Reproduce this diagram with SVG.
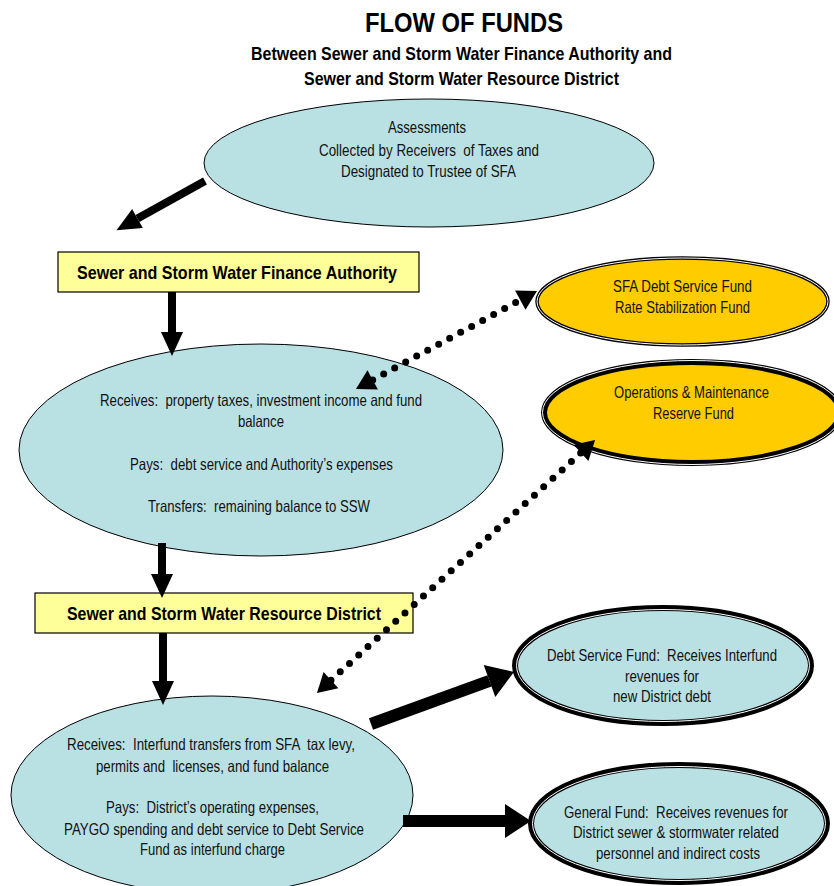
<svg xmlns="http://www.w3.org/2000/svg" width="834" height="886" viewBox="0 0 834 886">
<style>
text{font-family:"Liberation Sans Narrow","Arial Narrow","Liberation Sans",Arial,sans-serif;fill:#111;text-anchor:middle;white-space:pre}
.t{font-size:16.5px}
.b{font-size:18.5px;font-weight:bold;fill:#000}
.title{font-size:28px;font-weight:bold;fill:#000}
.blue{fill:#B9E0E3;stroke:#000;stroke-width:1}
.blueT{fill:#B9E0E3;stroke:#000;stroke-width:6}
.gold{fill:#FFCC00;stroke:#000;stroke-width:6}
.goldD{fill:#FFCC00;stroke:#000;stroke-width:3.5}
.gap{fill:none;stroke:#fff;stroke-width:1}
.box{fill:#FFFF99;stroke:#000;stroke-width:1.2}
.solid{fill:none;stroke:#000;stroke-width:8}
.heavy{fill:none;stroke:#000;stroke-width:12}
.dots{fill:none;stroke:#000;stroke-width:7;stroke-linecap:round;stroke-dasharray:0 12.5}
</style>
<defs>
<marker id="hSolid" markerUnits="userSpaceOnUse" markerWidth="24" markerHeight="22" refX="0" refY="11" orient="auto" overflow="visible">
<path d="M0,0 L24,11 L0,22 z" fill="#000"/>
</marker>
<marker id="hHeavy" markerUnits="userSpaceOnUse" markerWidth="26" markerHeight="34" refX="0" refY="17" orient="auto" overflow="visible">
<path d="M0,0 L26,17 L0,34 z" fill="#000"/>
</marker>
<marker id="hDot" markerUnits="userSpaceOnUse" markerWidth="19" markerHeight="22" refX="0" refY="11" orient="auto-start-reverse" overflow="visible">
<path d="M0,0 L19,11 L0,22 z" fill="#000"/>
</marker>
</defs>

<g id="title">
<text class="title" x="464" y="32" textLength="198" lengthAdjust="spacingAndGlyphs">FLOW OF FUNDS</text>
<text class="b" x="461.5" y="60" textLength="421" lengthAdjust="spacingAndGlyphs">Between Sewer and Storm Water Finance Authority and</text>
<text class="b" x="461.5" y="85" textLength="315" lengthAdjust="spacingAndGlyphs">Sewer and Storm Water Resource District</text>
</g>

<g id="assessments">
<ellipse class="blue" cx="429" cy="163" rx="225" ry="64"/>
<text class="t" x="427" y="133" textLength="78" lengthAdjust="spacingAndGlyphs">Assessments</text>
<text class="t" x="429" y="156" textLength="220" lengthAdjust="spacingAndGlyphs">Collected by Receivers  of Taxes and</text>
<text class="t" x="428.5" y="177" textLength="175" lengthAdjust="spacingAndGlyphs">Designated to Trustee of SFA</text>
</g>

<g id="sfa">
<rect class="box" x="58" y="252" width="361" height="40"/>
<text class="b" x="237" y="279" textLength="320" lengthAdjust="spacingAndGlyphs">Sewer and Storm Water Finance Authority</text>
</g>

<g id="sfa-detail">
<ellipse class="blue" cx="261" cy="450" rx="242" ry="106"/>
<text class="t" x="261" y="406" textLength="322" lengthAdjust="spacingAndGlyphs">Receives:  property taxes, investment income and fund</text>
<text class="t" x="261" y="427" textLength="46" lengthAdjust="spacingAndGlyphs">balance</text>
<text class="t" x="261.5" y="470" textLength="263" lengthAdjust="spacingAndGlyphs">Pays:  debt service and Authority’s expenses</text>
<text class="t" x="259" y="512" textLength="222" lengthAdjust="spacingAndGlyphs">Transfers:  remaining balance to SSW</text>
</g>

<g id="sfa-debt-service">
<ellipse class="goldD" cx="682.5" cy="301.5" rx="145.5" ry="43.5"/>
<ellipse class="gap" cx="682.5" cy="301.5" rx="145.5" ry="43.5"/>
<text class="t" x="682.5" y="292" textLength="139" lengthAdjust="spacingAndGlyphs">SFA Debt Service Fund</text>
<text class="t" x="682.5" y="313" textLength="135" lengthAdjust="spacingAndGlyphs">Rate Stabilization Fund</text>
</g>

<g id="om-reserve">
<ellipse class="gold" cx="692" cy="412.5" rx="148" ry="50.5"/>
<ellipse class="gap" cx="692" cy="412.5" rx="149.5" ry="52"/>
<text class="t" x="691.5" y="398" textLength="155" lengthAdjust="spacingAndGlyphs">Operations &amp; Maintenance</text>
<text class="t" x="693.5" y="419" textLength="81" lengthAdjust="spacingAndGlyphs">Reserve Fund</text>
</g>

<g id="ssw">
<rect class="box" x="35" y="593" width="378" height="40"/>
<text class="b" x="224" y="620" textLength="314" lengthAdjust="spacingAndGlyphs">Sewer and Storm Water Resource District</text>
</g>

<g id="ssw-detail">
<ellipse class="blue" cx="212" cy="795" rx="201" ry="99"/>
<text class="t" x="211" y="750" textLength="288" lengthAdjust="spacingAndGlyphs">Receives:  Interfund transfers from SFA  tax levy,</text>
<text class="t" x="212.5" y="772" textLength="233" lengthAdjust="spacingAndGlyphs">permits and  licenses, and fund balance</text>
<text class="t" x="212.5" y="813" textLength="213" lengthAdjust="spacingAndGlyphs">Pays:  District’s operating expenses,</text>
<text class="t" x="214" y="835" textLength="300" lengthAdjust="spacingAndGlyphs">PAYGO spending and debt service to Debt Service</text>
<text class="t" x="212.5" y="855" textLength="145" lengthAdjust="spacingAndGlyphs">Fund as interfund charge</text>
</g>

<g id="debt-service-fund">
<ellipse class="blueT" cx="663" cy="665.5" rx="148" ry="57.5"/>
<ellipse class="gap" cx="663" cy="665.5" rx="146.5" ry="56"/>
<text class="t" x="662" y="661" textLength="230" lengthAdjust="spacingAndGlyphs">Debt Service Fund:  Receives Interfund</text>
<text class="t" x="662" y="682" textLength="74" lengthAdjust="spacingAndGlyphs">revenues for</text>
<text class="t" x="662" y="702" textLength="98" lengthAdjust="spacingAndGlyphs">new District debt</text>
</g>

<g id="general-fund">
<ellipse class="blueT" cx="679" cy="823.5" rx="148" ry="58.5"/>
<ellipse class="gap" cx="679" cy="823.5" rx="146.5" ry="57"/>
<text class="t" x="676" y="818" textLength="224" lengthAdjust="spacingAndGlyphs">General Fund:  Receives revenues for</text>
<text class="t" x="676" y="838" textLength="206" lengthAdjust="spacingAndGlyphs">District sewer &amp; stormwater related</text>
<text class="t" x="678" y="859" textLength="164" lengthAdjust="spacingAndGlyphs">personnel and indirect costs</text>
</g>

<g id="connectors">
<line class="solid" x1="205" y1="181" x2="137.5" y2="218.5" marker-end="url(#hSolid)"/>
<line class="solid" x1="172" y1="292" x2="172" y2="332" marker-end="url(#hSolid)"/>
<line class="solid" x1="162" y1="543" x2="162" y2="574" marker-end="url(#hSolid)"/>
<line class="solid" x1="163" y1="633" x2="163" y2="681" marker-end="url(#hSolid)"/>
<line class="heavy" x1="371" y1="724" x2="489.5" y2="680.9" marker-end="url(#hHeavy)"/>
<line class="heavy" x1="403" y1="821" x2="505" y2="821" marker-end="url(#hHeavy)"/>
<line class="dots" x1="372.7" y1="379.9" x2="520.3" y2="300.1" marker-start="url(#hDot)" marker-end="url(#hDot)"/>
<line class="dots" x1="331" y1="680.2" x2="581" y2="452.8" marker-start="url(#hDot)" marker-end="url(#hDot)"/>
</g>
</svg>
